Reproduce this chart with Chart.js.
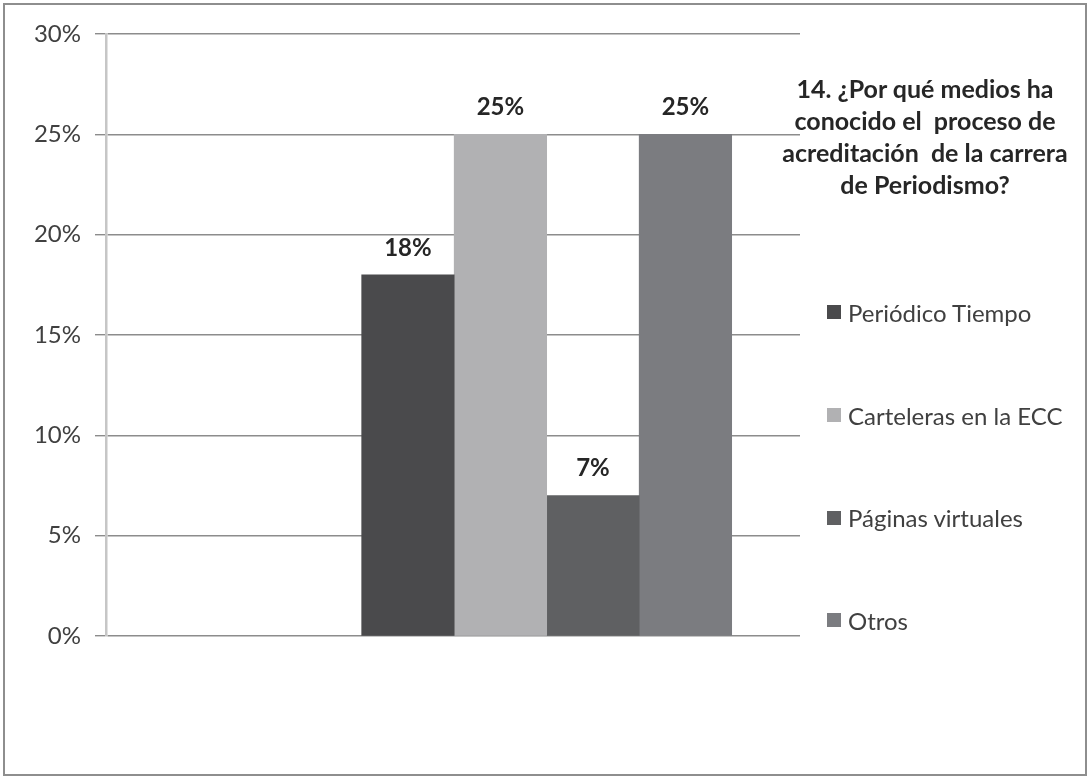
<!DOCTYPE html>
<html lang="es">
<head>
<meta charset="utf-8">
<title>14. ¿Por qué medios ha conocido el proceso de acreditación?</title>
<script src="https://cdn.jsdelivr.net/npm/chart.js@4.4.1/dist/chart.umd.min.js"></script>
<style>
    html, body { margin: 0; padding: 0; background: #fff; }
    #wrap { position: relative; width: 1090px; height: 778px; overflow: hidden; font-family: Lato, "Open Sans", sans-serif; }
    #marco {
        position: absolute; left: 3px; top: 3px; width: 1080px; height: 769px;
        border: 2px solid #8e8e8e;
    }
    #grafico { position: absolute; left: 0; top: 0; width: 1090px; height: 778px; }
    #titulo {
        position: absolute; left: 770px; top: 72px; width: 310px;
        text-align: center; font-weight: bold; font-size: 25px; line-height: 32px; color: #262626;
        white-space: nowrap;
    }
    #leyenda { position: absolute; left: 827px; top: 261px; }
    .item { height: 102.7px; display: flex; align-items: center; font-size: 24px; color: #404040; white-space: nowrap; }
    .item span.caja { width: 14px; height: 14px; margin-right: 7px; display: inline-block; }
</style>
</head>
<body>
<div id="wrap">
    <div id="marco"></div>
    <div id="grafico"><canvas id="chart"></canvas></div>
    <div id="titulo">14. ¿Por qué medios ha<br>conocido el&nbsp; proceso de<br>acreditación&nbsp; de la carrera<br>de Periodismo?</div>
    <div id="leyenda"></div>
</div>

<script>
// ─── Datos ────────────────────────────────────────────────────────────────────
const MEDIOS      = ['Periódico Tiempo', 'Carteleras en la ECC', 'Páginas virtuales', 'Otros'];
const PORCENTAJES = [18, 25, 7, 25];
const Y_TICKS     = [0, 5, 10, 15, 20, 25, 30];

// ─── Estilos ──────────────────────────────────────────────────────────────────
const COLORES  = ['#4a4a4c', '#b1b1b3', '#5f6062', '#7b7c80'];
const GRUPO_X  = 0.635;   // posición horizontal del grupo dentro del área del gráfico
const FUENTE   = 'Lato, "Open Sans", sans-serif';

// Etiquetas de valor encima de cada barra
const etiquetasValor = {
    id: 'etiquetasValor',
    afterDatasetsDraw(chart) {
        const ctx = chart.ctx;
        ctx.save();
        ctx.font = 'bold 24px ' + FUENTE;
        ctx.fillStyle = '#262626';
        ctx.textAlign = 'center';
        ctx.textBaseline = 'middle';
        chart.data.datasets.forEach((ds, i) => {
            chart.getDatasetMeta(i).data.forEach((bar, j) => {
                ctx.fillText(ds.data[j].y + '%', bar.x, bar.y - 27);
            });
        });
        ctx.restore();
    }
};

const datasets = MEDIOS.map((medio, i) => ({
    label: medio,
    data: [{ x: GRUPO_X, y: PORCENTAJES[i] }],
    backgroundColor: COLORES[i],
    borderWidth: 0,
    barThickness: 92.5
}));

new Chart(document.getElementById('chart'), {
    type: 'bar',
    data: { datasets },
    options: {
        responsive: true,
        maintainAspectRatio: false,
        animation: false,
        layout: { padding: { left: 0, top: 34, right: 290, bottom: 142 } },
        plugins: {
            legend: { display: false },
            tooltip: { enabled: false }
        },
        scales: {
            x: { type: 'linear', min: 0, max: 1, offset: false, display: false },
            y: {
                min: 0,
                max: 30,
                afterBuildTicks: (scale) => { scale.ticks = Y_TICKS.map(v => ({ value: v })); },
                afterFit: (scale) => { scale.width = 106; },
                ticks: {
                    callback: (v) => v + '%',
                    color: '#404040',
                    font: { family: FUENTE, size: 24 },
                    padding: 14
                },
                grid: { color: '#8c8c8c', lineWidth: 1.4, tickLength: 11 },
                border: { color: '#c6c6c6', width: 2.5 }
            }
        }
    },
    plugins: [etiquetasValor]
});

// Leyenda a la derecha
const leyenda = document.getElementById('leyenda');
MEDIOS.forEach((medio, i) => {
    const item = document.createElement('div');
    item.className = 'item';
    item.innerHTML = `<span class="caja" style="background:${COLORES[i]}"></span>${medio}`;
    leyenda.appendChild(item);
});
</script>
</body>
</html>
